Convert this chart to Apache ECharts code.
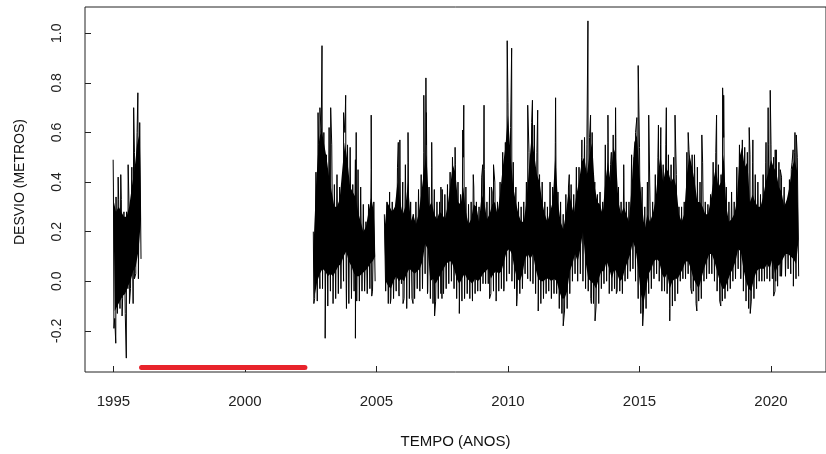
<!DOCTYPE html>
<html>
<head>
<meta charset="utf-8">
<script src="https://cdn.jsdelivr.net/npm/echarts@6/dist/echarts.min.js"></script>
<style>
html,body{margin:0;padding:0;background:#fff;}
#c{width:826px;height:454px;}
</style>
</head>
<body>
<div id="c"></div>
<script>
// ---- data ----
const binStep = 0.1; // years between successive readings
const xTicks = [1995, 2000, 2005, 2010, 2015, 2020];
const yTicks = [-0.2, 0.0, 0.2, 0.4, 0.6, 0.8, 1.0];

// segment 1 (1995 - 1996): dense band top/bottom, and thin-line tips above/below it
const seg1Start = 1995.0;
const seg1Hi = [0.33,0.28,0.30,0.28,0.26,0.26,0.30,0.38,0.45,0.55,0.60];
const seg1Lo = [-0.12,-0.10,-0.08,-0.06,-0.05,-0.02,0.00,0.04,0.06,0.12,0.25];
const seg1Up = [0.38,0.34,0.33,0.33,0.28,0.28,0.28,0.46,0.52,0.60,0.64];
const seg1Down = [-0.15,-0.13,-0.11,-0.07,-0.13,-0.03,-0.03,-0.09,0.03,0.01,0.09];

// segment 2 (2002.6 - 2005)
const seg2Start = 2002.6;
const seg2Hi = [0.12,0.38,0.55,0.62,0.56,0.50,0.42,0.36,0.30,0.30,0.33,0.45,0.56,0.48,0.38,0.36,0.34,0.28,0.24,0.20,0.22,0.28,0.34,0.28];
const seg2Lo = [-0.06,0.00,0.03,0.05,0.04,0.02,0.03,0.02,0.04,0.06,0.07,0.10,0.12,0.08,0.06,0.03,0.02,0.02,0.03,0.04,0.05,0.07,0.08,0.10];
const seg2Up = [0.20,0.44,0.55,0.60,0.60,0.51,0.62,0.55,0.39,0.43,0.38,0.38,0.60,0.55,0.54,0.39,0.49,0.45,0.38,0.31,0.24,0.31,0.45,0.32];
const seg2Down = [-0.07,-0.08,-0.03,-0.03,-0.04,-0.10,-0.04,-0.08,-0.07,-0.05,-0.03,0.00,-0.03,-0.09,-0.07,-0.04,-0.08,-0.08,-0.04,-0.04,-0.05,-0.03,-0.04,0.00];

// segment 3 (2005.3 - 2021)
const seg3Start = 2005.3;
const seg3Hi = [
  0.20,0.32,0.30,0.28,0.30,
  0.40,0.32,0.27,0.30,0.40,0.24,0.27,0.23,0.27,0.35,
  0.44,0.51,0.30,0.32,0.27,0.25,0.28,0.27,0.25,0.30,
  0.38,0.47,0.44,0.32,0.31,0.38,0.28,0.23,0.25,0.31,
  0.30,0.24,0.35,0.32,0.25,
  0.27,0.31,0.32,0.27,0.35,0.46,0.54,0.67,0.51,0.38,
  0.32,0.27,0.24,0.24,0.32,0.46,0.59,0.51,0.43,0.40,
  0.32,0.27,0.24,0.28,0.32,0.51,0.32,0.24,0.21,0.27,
  0.36,0.32,0.27,0.35,0.40,0.48,
  0.50,0.43,0.51,0.56,0.38,0.32,0.31,0.27,0.40,0.48,
  0.40,0.54,0.51,0.32,0.27,0.30,0.27,0.24,0.38,0.56,
  0.59,0.43,0.30,0.21,0.27,0.24,0.27,0.32,0.43,0.51,
  0.40,0.46,0.44,0.40,0.42,
  0.38,0.27,0.24,0.27,0.43,0.51,0.46,0.40,0.32,0.32,
  0.30,0.27,0.27,0.32,0.40,0.46,0.38,0.40,0.51,0.30,
  0.24,0.25,0.27,0.32,0.50,0.54,0.46,0.48,0.32,0.35,
  0.32,0.30,0.30,0.34,0.40,0.44,
  0.49,0.46,0.44,0.38,0.36,0.30,0.33,0.38,0.46,0.49,0.44
];
const seg3Lo = [
  0.00,-0.02,-0.03,0.00,0.02,
  0.00,0.01,0.00,0.03,0.05,0.04,0.03,0.04,0.05,0.08,
  0.15,0.13,0.00,0.01,-0.01,0.01,0.03,0.05,0.07,0.08,
  0.08,0.05,0.01,-0.01,0.01,0.03,0.01,0.00,-0.01,0.01,
  0.00,0.01,0.03,0.04,0.05,
  0.01,0.03,0.04,0.03,0.04,0.08,0.12,0.13,0.11,0.05,
  0.01,0.00,0.03,0.09,0.11,0.09,0.11,0.05,0.01,0.00,
  0.00,0.01,0.01,0.00,0.01,0.00,-0.04,-0.07,-0.07,-0.04,
  0.04,0.07,0.11,0.08,0.13,0.20,
  0.08,0.01,0.00,-0.01,-0.03,0.01,0.04,0.04,0.08,0.05,
  0.01,0.05,0.03,0.00,0.01,0.05,0.08,0.11,0.16,0.13,
  0.05,-0.05,-0.09,-0.03,0.03,0.05,0.08,0.09,0.08,0.03,
  0.01,0.03,-0.03,0.00,0.01,
  0.01,0.03,0.05,0.08,0.08,0.05,0.01,-0.01,-0.03,0.01,
  0.05,0.08,0.11,0.11,0.08,0.04,0.00,-0.03,-0.03,0.00,
  0.03,0.05,0.08,0.13,0.12,0.05,0.00,-0.03,-0.04,0.01,
  0.04,0.05,0.05,0.05,0.07,0.05,
  0.09,0.03,0.06,0.07,0.09,0.11,0.11,0.10,0.09,0.07,0.17
];
const seg3Up = [
  0.27,0.32,0.36,0.32,0.27,
  0.46,0.42,0.40,0.47,0.48,0.32,0.27,0.32,0.37,0.43,
  0.52,0.55,0.38,0.46,0.37,0.32,0.32,0.37,0.35,0.39,
  0.44,0.45,0.47,0.40,0.35,0.50,0.38,0.31,0.32,0.38,
  0.32,0.30,0.42,0.45,0.32,
  0.38,0.36,0.40,0.32,0.40,0.52,0.56,0.72,0.62,0.48,
  0.38,0.32,0.30,0.32,0.40,0.52,0.64,0.63,0.52,0.43,
  0.40,0.32,0.30,0.40,0.38,0.56,0.36,0.32,0.27,0.35,
  0.38,0.39,0.35,0.46,0.46,0.50,
  0.50,0.55,0.58,0.60,0.40,0.35,0.36,0.32,0.55,0.56,
  0.47,0.59,0.58,0.38,0.32,0.42,0.32,0.32,0.51,0.50,
  0.66,0.54,0.38,0.30,0.40,0.32,0.32,0.43,0.50,0.55,
  0.47,0.55,0.51,0.47,0.50,
  0.43,0.30,0.30,0.32,0.52,0.50,0.51,0.45,0.46,0.40,
  0.48,0.32,0.31,0.35,0.48,0.52,0.47,0.43,0.58,0.38,
  0.32,0.36,0.32,0.46,0.55,0.50,0.54,0.52,0.51,0.48,
  0.43,0.40,0.35,0.43,0.48,0.55,
  0.55,0.50,0.53,0.48,0.42,0.38,0.32,0.41,0.48,0.52,0.50
];
const seg3Down = [
  -0.04,-0.09,-0.07,-0.07,-0.04,
  -0.04,-0.01,-0.07,-0.08,-0.07,-0.07,-0.07,-0.03,-0.04,-0.03,
  0.03,-0.04,-0.07,-0.09,-0.08,-0.07,-0.05,-0.05,-0.03,-0.01,
  0.00,-0.03,-0.07,-0.08,-0.08,-0.07,-0.05,-0.07,-0.08,-0.05,
  -0.04,-0.04,-0.01,-0.01,-0.01,
  -0.05,-0.04,-0.06,-0.04,-0.03,-0.03,0.00,0.03,0.00,-0.03,
  -0.06,-0.05,-0.03,0.03,0.01,0.00,-0.01,-0.05,-0.08,-0.09,
  -0.07,-0.05,-0.04,-0.07,-0.05,-0.05,-0.11,-0.13,-0.12,-0.11,
  -0.05,0.00,0.03,0.00,0.03,0.00,
  -0.03,-0.04,-0.07,-0.09,-0.10,-0.09,-0.03,-0.01,0.00,-0.05,
  -0.04,-0.03,-0.04,-0.04,-0.05,0.00,0.01,0.04,0.05,0.00,
  -0.07,-0.13,-0.12,-0.11,-0.05,-0.03,0.01,0.03,0.00,-0.04,
  -0.04,-0.05,-0.11,-0.10,-0.08,
  -0.05,0.00,0.01,0.01,0.03,-0.03,-0.04,-0.09,-0.08,-0.07,
  0.00,0.01,0.03,0.03,0.00,-0.04,-0.08,-0.08,-0.07,-0.04,
  -0.03,0.00,0.01,0.05,0.01,-0.04,-0.08,-0.11,-0.08,-0.07,
  -0.03,0.00,0.00,0.00,0.01,0.00,
  0.01,-0.04,-0.02,0.02,0.02,0.02,0.05,0.03,-0.02,0.01,0.02
];

// isolated extreme readings [year, metres]
const spikes = [
  [1994.99,0.49],[1995.02,-0.19],[1995.09,-0.25],[1995.18,0.42],[1995.28,0.43],[1995.33,-0.14],
  [1995.49,-0.31],[1995.56,0.47],[1995.61,-0.09],[1995.77,0.70],[1995.80,0.01],[1995.88,0.48],[1995.93,0.76],
  [2002.62,-0.09],[2002.78,0.68],[2002.85,0.70],[2002.93,0.95],[2003.05,-0.23],[2003.26,0.70],[2003.35,-0.09],
  [2003.75,0.68],[2003.83,0.75],[2003.86,-0.11],[2004.20,-0.23],[2004.23,0.60],[2004.80,0.67],[2004.82,-0.06],
  [2005.50,0.36],[2005.53,-0.09],
  [2005.83,0.56],[2005.86,-0.06],[2005.89,0.57],[2006.01,-0.09],[2006.15,-0.11],[2006.20,0.60],[2006.39,-0.09],
  [2006.61,0.37],[2006.80,0.75],[2006.88,0.82],[2006.90,0.68],[2006.94,-0.05],[2007.10,0.56],[2007.21,-0.14],
  [2007.45,0.38],[2007.49,-0.07],[2007.74,0.39],[2007.89,0.50],[2007.99,0.54],[2008.15,-0.13],[2008.28,0.61],
  [2008.32,0.71],[2008.68,0.43],[2008.78,-0.05],[2009.04,0.47],[2009.09,0.71],
  [2009.30,-0.07],[2009.37,0.38],[2009.45,0.47],[2009.55,-0.08],[2009.84,-0.04],[2009.97,0.97],[2010.14,0.94],
  [2010.33,-0.10],[2010.75,0.71],[2010.93,0.73],[2011.13,0.69],[2011.15,-0.12],[2011.81,0.74],[2012.10,-0.18],
  [2012.33,0.43],[2012.81,0.57],
  [2012.91,0.58],[2013.04,1.05],[2013.14,0.67],[2013.17,-0.09],[2013.31,-0.16],[2013.80,0.67],[2013.93,0.52],
  [2014.09,0.70],[2014.12,-0.05],[2014.40,0.47],[2014.85,0.60],[2014.95,0.87],[2015.12,-0.18],[2015.35,0.67],
  [2015.72,0.63],[2015.81,0.62],[2016.02,0.70],[2016.15,-0.16],[2016.35,0.67],
  [2016.85,0.60],[2016.88,0.53],[2016.99,-0.05],[2017.09,0.51],[2017.18,-0.12],[2017.37,0.59],[2017.93,0.67],
  [2018.09,-0.10],[2018.16,0.78],[2018.20,0.75],[2018.91,0.57],[2019.17,0.62],[2019.21,-0.13],[2019.31,0.57],
  [2019.81,0.56],[2019.89,0.70],[2019.97,0.77],
  [2020.10,-0.06],[2020.16,0.53],[2020.18,0.00],[2020.35,0.45],[2020.40,0.02],[2020.77,0.45],[2020.84,0.53],
  [2020.86,-0.02],[2020.91,0.60],[2020.96,0.59]
];

// missing-data marker
const gapStart = 1996.07;
const gapEnd = 2002.28;
const gapLevel = -0.348;

// ---- build series ----
const segDefs = [
  {start: seg1Start, hi: seg1Hi, lo: seg1Lo, up: seg1Up, down: seg1Down},
  {start: seg2Start, hi: seg2Hi, lo: seg2Lo, up: seg2Up, down: seg2Down},
  {start: seg3Start, hi: seg3Hi, lo: seg3Lo, up: seg3Up, down: seg3Down}
];
function buildLine(s) {
  const pts = [];
  for (let i = 0; i < s.up.length; i++) {
    const t = s.start + i * binStep;
    pts.push([+t.toFixed(3), s.up[i]]);
    pts.push([+(t + binStep / 2).toFixed(3), s.down[i]]);
  }
  const end = s.start + s.up.length * binStep;
  spikes.forEach(p => { if (p[0] >= s.start - 0.1 && p[0] < end) pts.push(p); });
  pts.sort((a, b) => a[0] - b[0]);
  return pts;
}

const chart = echarts.init(document.getElementById('c'), null, {renderer: 'canvas'});
const font = 'Liberation Sans, Arial, sans-serif';
const series = [];

// dense band (one polygon per segment, through the axis scales)
series.push({
  type: 'custom', silent: true, z: 1,
  data: segDefs.map((s, k) => [k]),
  encode: {x: -1, y: -1},
  renderItem: function (params, api) {
    const s = segDefs[api.value(0)];
    const top = [], bot = [];
    for (let i = 0; i < s.hi.length; i++) {
      const tHi = s.start + i * binStep;
      top.push(api.coord([tHi, s.hi[i]]));
      bot.push(api.coord([tHi + binStep / 2, s.lo[i]]));
    }
    bot.reverse();
    return {type: 'polygon', shape: {points: top.concat(bot)}, style: {fill: '#000'}};
  }
});

segDefs.forEach(s => {
  series.push({
    type: 'line', data: buildLine(s), symbol: 'none', silent: true,
    lineStyle: {color: '#000', width: 1}, z: 2
  });
});
series.push({
  type: 'line', data: [[gapStart, gapLevel], [gapEnd, gapLevel]], symbol: 'none', silent: true,
  lineStyle: {color: '#E8232B', width: 5, cap: 'round'}, z: 3
});

chart.setOption({
  animation: false,
  backgroundColor: '#fff',
  grid: {left: 85, top: 7, bottom: 81, right: -10, show: true, borderColor: '#222', borderWidth: 1, backgroundColor: 'transparent'},
  xAxis: {
    type: 'value', min: 1993.92, max: 2022.09,
    axisLine: {show: false, onZero: false},
    splitLine: {show: false},
    axisTick: {show: true, inside: true, length: 6, lineStyle: {color: '#222'}, customValues: xTicks},
    axisLabel: {customValues: xTicks, margin: 22, color: '#222', fontSize: 15, fontFamily: font,
      formatter: v => String(Math.round(v))},
    name: 'TEMPO (ANOS)', nameLocation: 'middle', nameGap: 62,
    nameTextStyle: {color: '#111', fontSize: 15, fontFamily: font}
  },
  yAxis: {
    type: 'value', min: -0.366, max: 1.106,
    axisLine: {show: false, onZero: false},
    splitLine: {show: false},
    axisTick: {show: true, inside: true, length: 6, lineStyle: {color: '#222'}, customValues: yTicks},
    axisLabel: {customValues: yTicks, rotate: 90, margin: 21, color: '#222', fontSize: 14, fontFamily: font,
      formatter: v => v.toFixed(1)}
  },
  graphic: [{
    type: 'text', x: 20, y: 182, rotation: Math.PI / 2,
    style: {text: 'DESVIO (METROS)', fill: '#111', font: '14px ' + font, align: 'center', verticalAlign: 'middle'}
  }],
  series: series
});
</script>
</body>
</html>
